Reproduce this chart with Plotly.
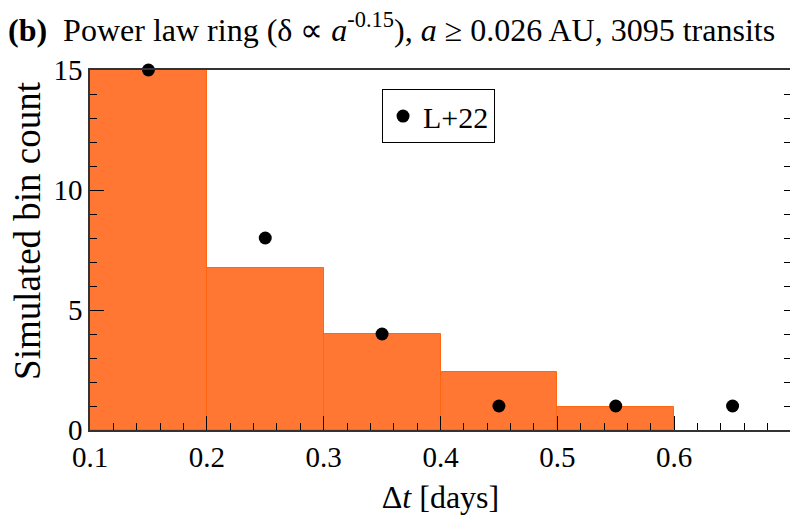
import plotly.graph_objects as go

# histogram bins (left edges) and simulated counts
bin_left = [0.1, 0.2, 0.3, 0.4, 0.5]
bin_width = 0.1
sim_counts = [15, 6.75, 4.0, 2.4, 0.97]

# observed points (L+22)
obs_x = [0.15, 0.25, 0.35, 0.45, 0.55, 0.65]
obs_y = [15, 8, 4, 1, 1, 1]

FONT = "Liberation Serif"

fig = go.Figure()

# --- histogram ---
fig.add_trace(go.Bar(
    x=[b + bin_width / 2 for b in bin_left],
    y=sim_counts,
    width=bin_width,
    marker=dict(color="#FF7733", line=dict(color="#FF6611", width=1)),
    showlegend=False,
    hoverinfo="x+y",
))

# --- observed points ---
fig.add_trace(go.Scatter(
    x=obs_x,
    y=obs_y,
    mode="markers",
    name="L+22",
    marker=dict(color="black", size=13),
    cliponaxis=False,
))

# invisible trace so the right-hand tick axis gets drawn
fig.add_trace(go.Scatter(x=[0.1], y=[0], yaxis="y2", mode="markers",
                         marker=dict(opacity=0), showlegend=False, hoverinfo="skip"))

# page body has an 8px margin, so the figure is a bit smaller than the window
fig.update_layout(
    width=790, height=523,
    margin=dict(l=82, r=7, t=62, b=101),
    plot_bgcolor="white",
    paper_bgcolor="white",
    font=dict(family=FONT, size=29, color="black"),
    bargap=0,
    showlegend=True,
    legend=dict(
        x=0.4166, y=0.947, xanchor="left", yanchor="top",
        bordercolor="black", borderwidth=1,
        font=dict(family=FONT, size=30),
        itemwidth=30,
    ),
    title=dict(
        text="<b>(b)</b>  Power law ring (δ ∝ <i>a</i><sup>-0.15</sup>), <i>a</i> ≥ 0.026 AU, 3095 transits",
        x=0, xanchor="left", xref="container",
        y=0.959, yanchor="middle", yref="container",
        font=dict(family=FONT, size=32),
    ),
    yaxis2=dict(
        overlaying="y", side="right", range=[0, 15], dtick=1,
        ticks="inside", ticklen=7, tickcolor="black",
        showticklabels=False, showgrid=False, zeroline=False,
        showline=False, automargin=False,
    ),
    annotations=[dict(
        text="Simulated bin count", textangle=-90,
        xref="paper", x=-0.0884, xanchor="center",
        yref="paper", y=0.553, yanchor="middle",
        showarrow=False, font=dict(family=FONT, size=37),
    )],
)

fig.update_xaxes(
    range=[0.1, 0.7], dtick=0.1, tick0=0.1,
    ticks="inside", ticklen=14, tickcolor="black",
    minor=dict(dtick=0.02, ticks="inside", ticklen=7, tickcolor="black"),
    showline=True, linecolor="#333", linewidth=1.5, mirror=True,
    showgrid=False, zeroline=False, automargin=False,
    title=dict(text="Δ<i>t</i> [days]", standoff=14,
               font=dict(family=FONT, size=32)),
)
fig.update_yaxes(
    range=[0, 15], dtick=5,
    ticks="inside", ticklen=14, tickcolor="black",
    minor=dict(dtick=1, ticks="inside", ticklen=7, tickcolor="black"),
    showline=True, linecolor="#333", linewidth=1.5, mirror=True,
    showgrid=False, zeroline=False, automargin=False,
    selector=dict(overlaying=None),
)

fig.write_html("out.html")
